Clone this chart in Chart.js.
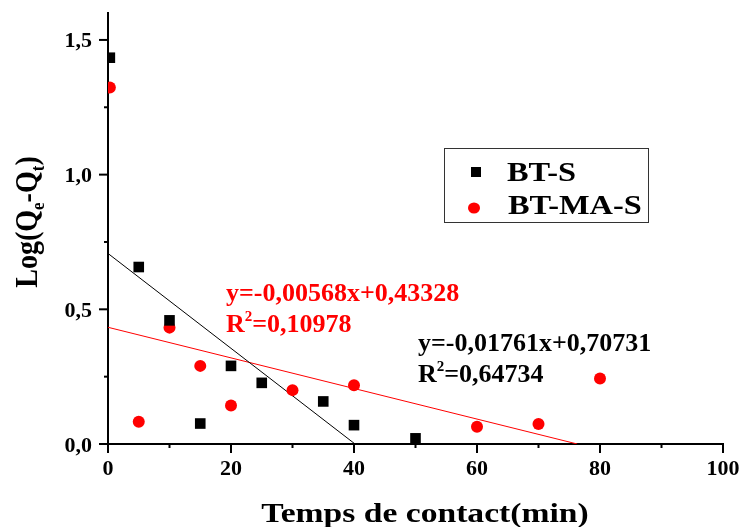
<!DOCTYPE html>
<html>
<head>
<meta charset="utf-8">
<script src="https://cdn.jsdelivr.net/npm/chart.js@4.4.0/dist/chart.umd.min.js"></script>
<style>
  body { margin: 0; background: #fff; }
  #wrap { width: 741px; height: 527px; }
</style>
</head>
<body>
<div id="wrap"><canvas id="mychart"></canvas></div>
<script>
// contact time (min) and Log(Qe-Qt)
var btsX = [0.3, 5, 10, 15, 20, 25, 35, 40, 50];
var btsY = [1.434, 0.657, 0.459, 0.076, 0.290, 0.227, 0.158, 0.070, 0.021];

var btmasX = [0.3, 5, 10, 15, 20, 30, 40, 60, 70, 80];
var btmasY = [1.323, 0.083, 0.432, 0.290, 0.143, 0.200, 0.218, 0.064, 0.074, 0.243];

// end points of the two linear fits
var fitBtsX = [0, 40];
var fitBtsY = [0.70731, 0.00291];
var fitBtmasX = [0, 76.3];
var fitBtmasY = [0.43328, 0];

var xMajor = [0, 20, 40, 60, 80, 100];
var xMinor = [10, 30, 50, 70, 90];
var yMajor = [0, 0.5, 1.0, 1.5];
var yMinor = [0.25, 0.75, 1.25];

var serif = '"Liberation Serif", "Times New Roman", serif';

function pts(xs, ys) {
    return xs.map(function(x, i) { return {x: x, y: ys[i]}; });
}

// text stretched sideways, like the original figure
function wideText(ctx, txt, x, y, sx) {
    ctx.save();
    ctx.translate(x, y);
    ctx.scale(sx, 1);
    ctx.fillText(txt, 0, 0);
    ctx.restore();
}

// tick marks, tick labels, axis titles, equations and legend box
var extras = {
    id: 'extras',
    afterDraw: function(chart) {
        var ctx = chart.ctx;
        var xs = chart.scales.x, ys = chart.scales.y;
        var x0 = xs.left, y0 = ys.bottom;
        ctx.save();
        ctx.strokeStyle = '#000';
        ctx.lineWidth = 2;
        xMajor.forEach(function(v) {
            var p = xs.getPixelForValue(v);
            ctx.beginPath(); ctx.moveTo(p, y0); ctx.lineTo(p, y0 + 9); ctx.stroke();
        });
        xMinor.forEach(function(v) {
            var p = xs.getPixelForValue(v);
            ctx.beginPath(); ctx.moveTo(p, y0); ctx.lineTo(p, y0 + 4); ctx.stroke();
        });
        yMajor.forEach(function(v) {
            var p = ys.getPixelForValue(v);
            ctx.beginPath(); ctx.moveTo(x0, p); ctx.lineTo(x0 - 9, p); ctx.stroke();
        });
        yMinor.forEach(function(v) {
            var p = ys.getPixelForValue(v);
            ctx.beginPath(); ctx.moveTo(x0, p); ctx.lineTo(x0 - 4, p); ctx.stroke();
        });

        // tick labels
        ctx.fillStyle = '#000';
        ctx.font = 'bold 22px ' + serif;
        ctx.textBaseline = 'alphabetic';
        ctx.textAlign = 'center';
        xMajor.forEach(function(v) {
            ctx.fillText(String(v), xs.getPixelForValue(v), 475);
        });
        ctx.textAlign = 'right';
        yMajor.forEach(function(v) {
            ctx.fillText(v.toFixed(1).replace('.', ','), 92, ys.getPixelForValue(v) + 7.5);
        });

        // x title
        ctx.font = 'bold 28px ' + serif;
        ctx.textAlign = 'center';
        wideText(ctx, 'Temps de contact(min)', 425, 522, 1.2);

        // y title with subscripts
        ctx.save();
        ctx.translate(37, 222);
        ctx.rotate(-Math.PI / 2);
        ctx.scale(1, 1.15);
        var parts = [['Log(Q', false], ['e', true], ['-Q', false], ['t', true], [')', false]];
        var big = 'bold 28px ' + serif, small = 'bold 17px ' + serif;
        var w = 0;
        parts.forEach(function(p) { ctx.font = p[1] ? small : big; w += ctx.measureText(p[0]).width; });
        var cx = -w / 2;
        ctx.textAlign = 'left';
        parts.forEach(function(p) {
            ctx.font = p[1] ? small : big;
            ctx.fillText(p[0], cx, p[1] ? 6 : 0);
            cx += ctx.measureText(p[0]).width;
        });
        ctx.restore();

        // equations
        function eq(color, line1, r2, x, y) {
            ctx.fillStyle = color;
            ctx.textAlign = 'left';
            ctx.font = 'bold 26px ' + serif;
            ctx.fillText(line1, x, y);
            ctx.fillText('R', x, y + 31);
            var rw = ctx.measureText('R').width;
            ctx.font = 'bold 15px ' + serif;
            ctx.fillText('2', x + rw, y + 20);
            var sw = ctx.measureText('2').width;
            ctx.font = 'bold 26px ' + serif;
            ctx.fillText(r2, x + rw + sw, y + 31);
        }
        eq('#ff0000', 'y=-0,00568x+0,43328', '=0,10978', 226, 301);
        eq('#000000', 'y=-0,01761x+0,70731', '=0,64734', 418, 351);

        // legend
        ctx.strokeStyle = '#333';
        ctx.lineWidth = 1;
        ctx.strokeRect(444.5, 148.5, 204, 74);
        ctx.fillStyle = '#000';
        ctx.fillRect(471, 167, 10, 10);
        ctx.fillStyle = '#ff0000';
        ctx.beginPath(); ctx.ellipse(474, 208, 6, 5.5, 0, 0, Math.PI * 2); ctx.fill();
        ctx.fillStyle = '#000';
        ctx.font = 'bold 27px ' + serif;
        ctx.textAlign = 'left';
        ctx.textBaseline = 'alphabetic';
        wideText(ctx, 'BT-S', 507, 181, 1.2);
        wideText(ctx, 'BT-MA-S', 508, 214, 1.2);
        ctx.restore();
    }
};

var ctx = document.getElementById('mychart');
var myChart = new Chart(ctx, {
    type: 'scatter',
    data: {
        datasets: [{
            label: 'BT-S',
            data: pts(btsX, btsY),
            pointStyle: 'rect',
            pointRadius: 7.5,
            backgroundColor: '#000',
            borderWidth: 0
        }, {
            label: 'BT-MA-S',
            data: pts(btmasX, btmasY),
            pointStyle: 'circle',
            pointRadius: 6,
            backgroundColor: '#ff0000',
            borderWidth: 0
        }, {
            label: 'fit BT-S',
            data: pts(fitBtsX, fitBtsY),
            showLine: true,
            pointRadius: 0,
            borderColor: '#000',
            borderWidth: 1
        }, {
            label: 'fit BT-MA-S',
            data: pts(fitBtmasX, fitBtmasY),
            showLine: true,
            pointRadius: 0,
            borderColor: '#ff0000',
            borderWidth: 1
        }]
    },
    options: {
        responsive: true,
        maintainAspectRatio: false,
        animation: false,
        layout: { padding: { top: 13, right: 18, left: 0, bottom: 0 } },
        plugins: {
            legend: { display: false },
            tooltip: { enabled: false }
        },
        scales: {
            x: {
                type: 'linear',
                min: 0,
                max: 100,
                afterFit: function(scale) {
                    scale.height = 83;
                    scale.paddingLeft = 0;
                    scale.paddingRight = 0;
                },
                grid: { display: false, drawTicks: false },
                border: { display: true, color: '#000', width: 2 },
                ticks: { display: false, stepSize: 20 }
            },
            y: {
                type: 'linear',
                min: 0,
                max: 1.6,
                afterFit: function(scale) {
                    scale.width = 108;
                    scale.paddingTop = 0;
                    scale.paddingBottom = 0;
                },
                grid: { display: false, drawTicks: false },
                border: { display: true, color: '#000', width: 2 },
                ticks: { display: false, stepSize: 0.5 }
            }
        }
    },
    plugins: [extras]
});
</script>
</body>
</html>
